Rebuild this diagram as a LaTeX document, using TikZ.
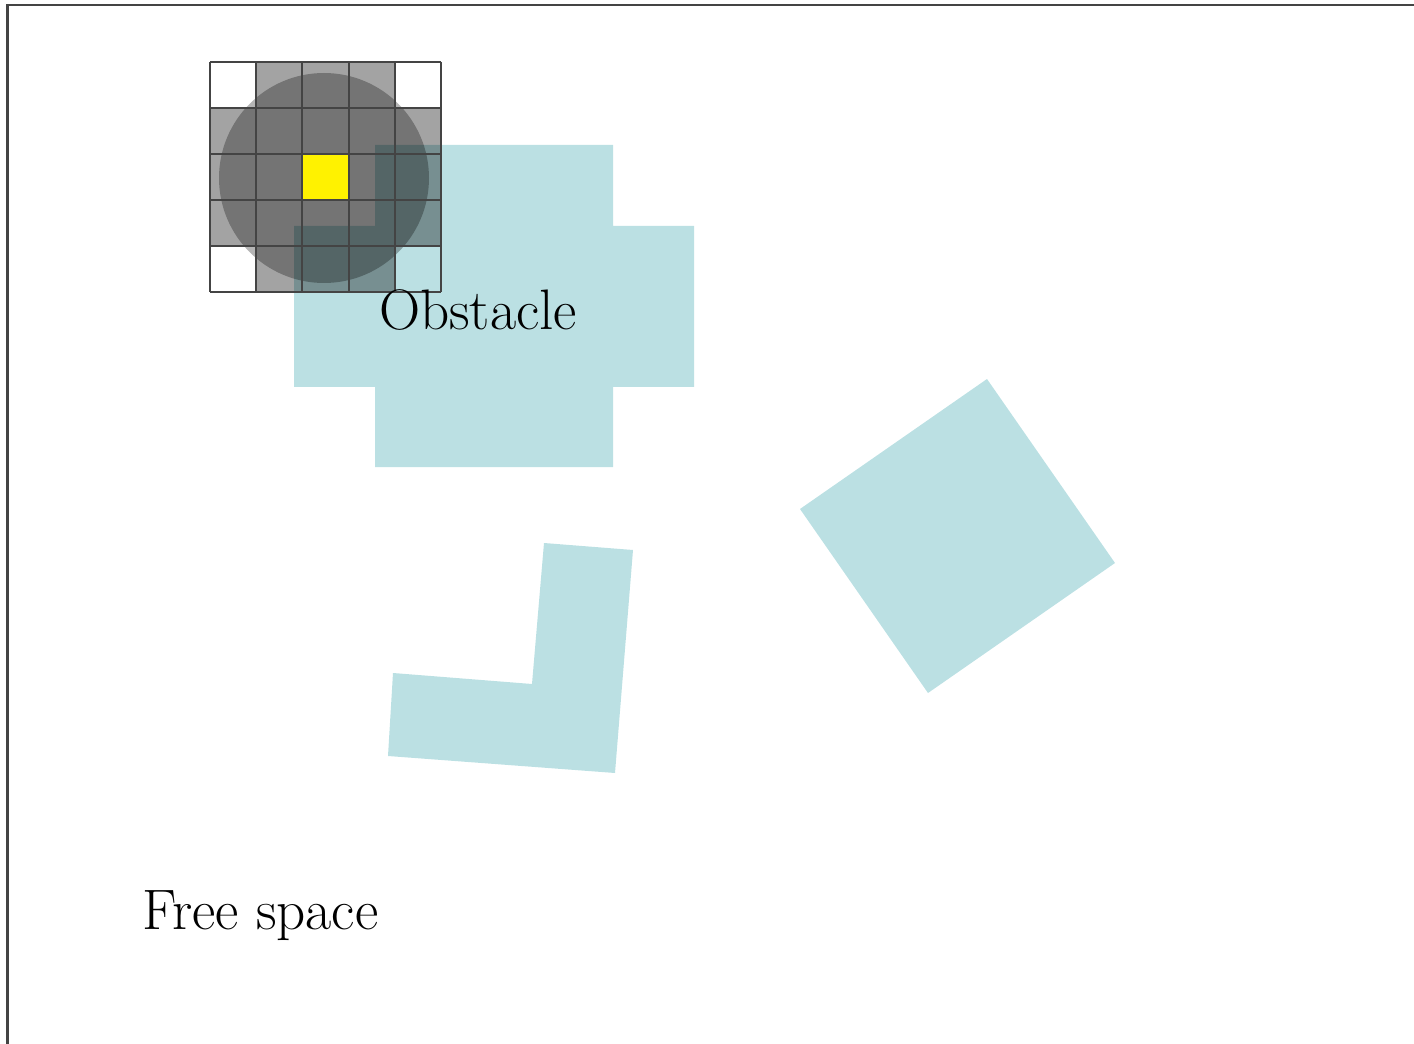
\documentclass[tikz,border=0pt]{standalone}
\usetikzlibrary{calc}
\definecolor{obstcol}{HTML}{BBE0E3}
\definecolor{framecol}{HTML}{444444}
\tikzset{
  obst/.style = {fill=obstcol, draw=none},
  label text/.style = {font=\fontsize{32.5}{38}\selectfont, inner sep=0pt},
}

\begin{document}
\begin{tikzpicture}[x=0.02cm, y=-0.02cm]
    % Page size
    \useasboundingbox (0,0) rectangle (1414,1044);
    % Frame
    \draw[framecol, line width=1.4pt] (7.5,1044) -- (7.5,5) -- (1414,5);

    % Obstacles
    \fill[obst] (375,145) -- (613,145) -- (613,226) -- (694,226) -- (694,387) -- (613,387)
        -- (613,467) -- (375,467) -- (375,387) -- (294,387) -- (294,226) -- (375,226) -- cycle;
    \fill[obst] (544,543) -- (633,550) -- (615,773) -- (388,756) -- (393,673) -- (532,684) -- cycle;
    \fill[obst] (987,379) -- (1115,563) -- (928,693) -- (800,509) -- cycle;

    % Grid cells around the robot
    \coordinate (G) at (210,62);
    \foreach \i in {0,...,4}
      \foreach \j in {0,...,4} {
        \ifnum\numexpr(\i-2)*(\i-2)+(\j-2)*(\j-2)\relax<8
          \fill[black, opacity=0.36] ($(G)+(46.2*\i,46*\j)$) rectangle ++(46.2,46);
        \fi
      }
    % Robot footprint
    \fill[black, opacity=0.29] (324,178) circle [radius=105];
    % Centre cell
    \fill[yellow] ($(G)+(92.4,92)$) rectangle ++(46.2,46);
    % Grid lines
    \foreach \k in {0,...,5} {
      \draw[framecol, line width=1.2pt] ($(G)+(46.2*\k,0)$) -- ++(0,230);
      \draw[framecol, line width=1.2pt] ($(G)+(0,46*\k)$) -- ++(231,0);
    }

    % Labels
    \node[label text, anchor=base] (obstacle) at (478,330) {Obstacle};
    \node[label text, anchor=base west] (free) at (142,929) {Free space};
\end{tikzpicture}
\end{document}
